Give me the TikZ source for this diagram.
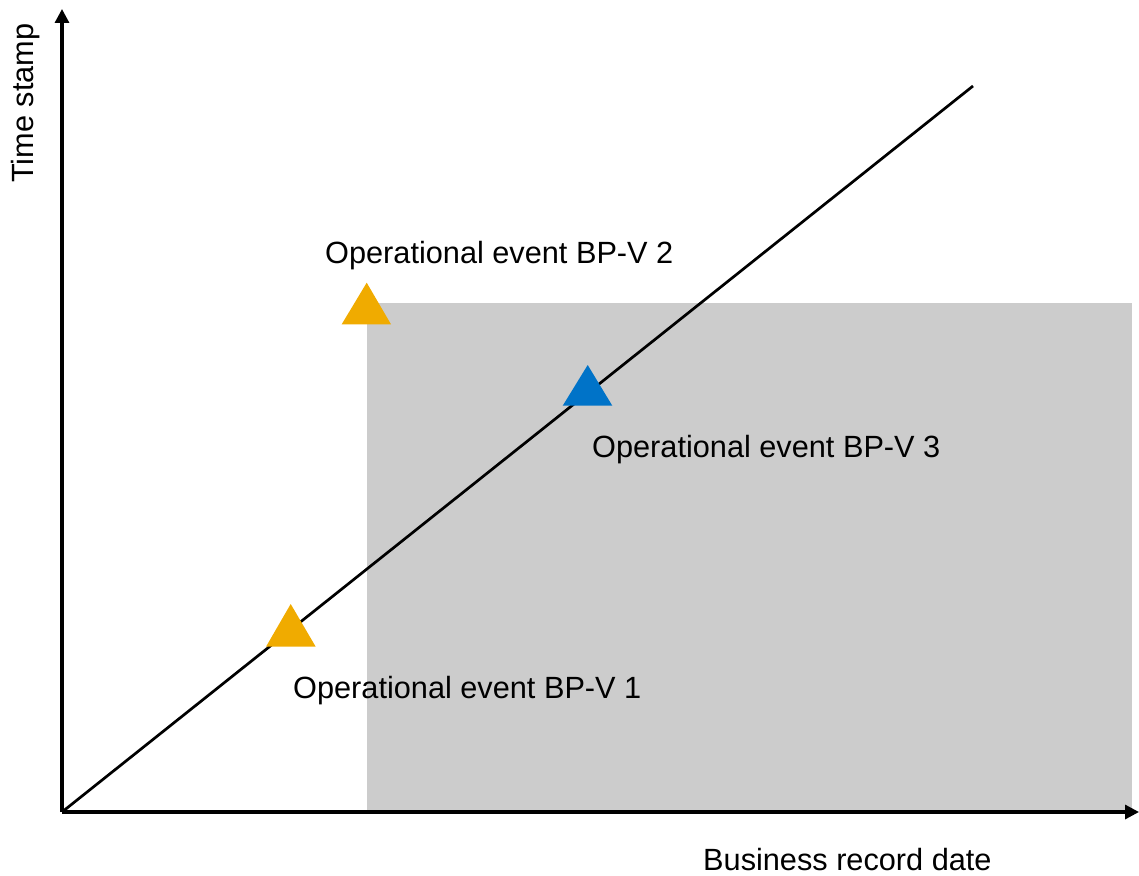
\documentclass[tikz,border=0pt]{standalone}
\usepackage{fontspec}
\setmainfont{Liberation Sans}
\usetikzlibrary{arrows.meta}
\definecolor{sapgray}{RGB}{204,204,204}
\definecolor{saporange}{RGB}{240,171,0}
\definecolor{sapblue}{RGB}{0,115,200}
\begin{document}
\begin{tikzpicture}[x=1pt,y=-1pt,
  axis/.style={line width=3.2pt,-{Triangle[length=14pt,width=14pt]}},
  lbl/.style={font=\fontsize{30.7}{36}\selectfont,inner sep=0pt,anchor=base west}]
\useasboundingbox (0,0) rectangle (1139,875);
% shaded region
\fill[sapgray] (367,303) rectangle (1132,812);
% axes
\coordinate (O) at (62,812);
\coordinate (Ytip) at (62,9);
\coordinate (Xtip) at (1139,812);
\coordinate (Dend) at (973,86);
\draw[axis] (O) -- (Ytip);
\draw[axis] (O) -- (Xtip);
% diagonal
\draw[line width=2.7pt] (O) -- (Dend);
% triangles
\fill[saporange] (366.7,282.7) -- (391,324.3) -- (341.7,324.3) -- cycle;
\fill[sapblue] (587.7,365) -- (612.3,405.7) -- (562.7,405.7) -- cycle;
\fill[saporange] (290.7,604) -- (315.7,646.7) -- (266,646.7) -- cycle;
% labels
\node[lbl] (l2) at (325,263) {Operational event BP-V 2};
\node[lbl] (l3) at (592,457) {Operational event BP-V 3};
\node[lbl] (l1) at (293,698) {Operational event BP-V 1};
\node[lbl] (bx) at (703,870) {Business record date};
\node[lbl,rotate=90] (ty) at (33,183) {Time stamp};
\end{tikzpicture}
\end{document}
